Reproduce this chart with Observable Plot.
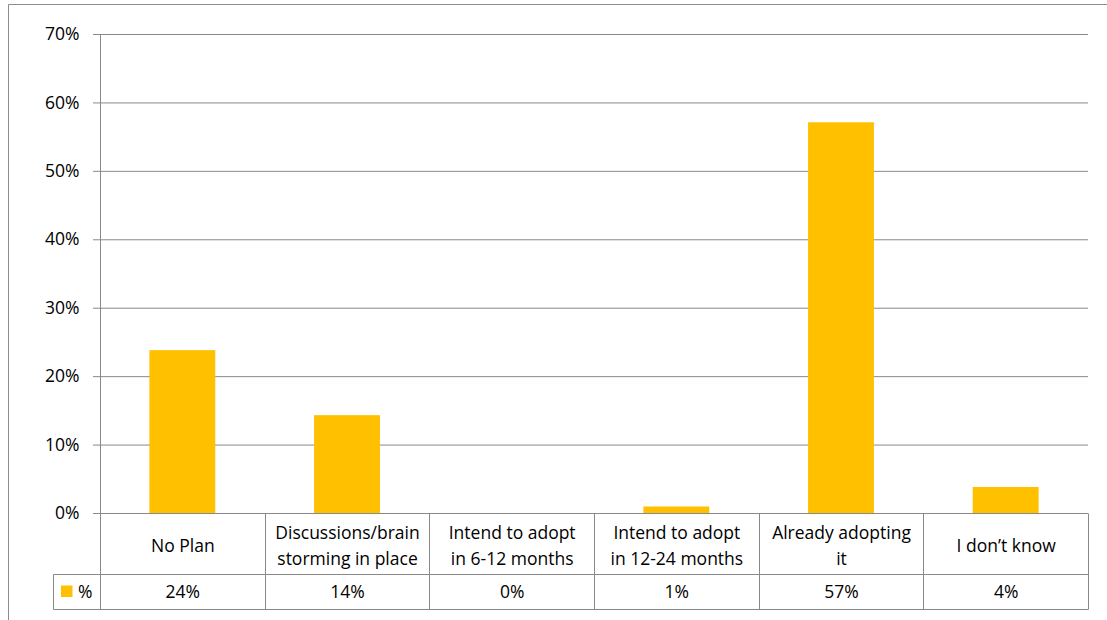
<!DOCTYPE html>
<html>
<head>
<meta charset="utf-8">
<script src="https://cdn.jsdelivr.net/npm/d3@7"></script>
<script src="https://cdn.jsdelivr.net/npm/@observablehq/plot@0.6"></script>
<style>
  html, body { margin: 0; padding: 0; background: #fff; }
  #chart { width: 1107px; height: 620px; }
  #chart svg { display: block; overflow: visible; }
</style>
</head>
<body>
<div id="chart"></div>
<script>
// Survey answers (one category per column of the data table)
const categories = [
  "No Plan",
  "Discussions/brain\nstorming in place",
  "Intend to adopt\nin 6-12 months",
  "Intend to adopt\nin 12-24 months",
  "Already adopting\nit",
  "I don’t know"
];
// Share of respondents per answer
const shares = [0.238, 0.143, 0, 0.0095, 0.571, 0.038];
// Series name shown in the data-table legend
const seriesName = "%";
// Y axis ticks
const yTicks = [0, 0.1, 0.2, 0.3, 0.4, 0.5, 0.6, 0.7];

const data = categories.map((c, i) => ({category: c, value: shares[i]}));

const gold = "#FFC000";
const lineGray = "#898989";
const font = "Open Sans";
const fontSize = 17.5;
const pct = d3.format(".0%");

const W = 1107, H = 620;
const marginLeft = 100, marginRight = 19, marginTop = 34, marginBottom = 107;
const catRowH = 61;   // height of the category row of the table
const valRowH = 35;   // height of the value row of the table

const chart = Plot.plot({
  width: W,
  height: H,
  marginLeft, marginRight, marginTop, marginBottom,
  style: {fontFamily: font, fontSize: fontSize + "px", color: "#000", background: "#fff", overflow: "visible"},
  x: {domain: categories, paddingInner: 0.6, paddingOuter: 0.3, round: false, axis: null},
  y: {domain: [0, 0.7], axis: null},
  marks: [
    Plot.gridY(yTicks, {stroke: lineGray, strokeOpacity: 1, strokeWidth: 1}),
    Plot.axisY(yTicks, {
      tickFormat: pct, tickSize: 7, tickPadding: 14, stroke: lineGray,
      fontSize, label: null, fill: "#000"
    }),
    Plot.barY(data, {x: "category", y: "value", fill: gold}),
    // category names in the first table row
    Plot.text(data, {
      x: "category", y: () => 0, text: "category",
      dy: catRowH / 2, lineHeight: 1.49, fontSize, fill: "#000"
    }),
    // value row of the table
    Plot.text(data, {
      x: "category", y: () => 0, text: d => pct(d.value),
      dy: catRowH + valRowH / 2, fontSize, fill: "#000"
    })
  ]
});

document.getElementById("chart").appendChild(chart);

// Data-table grid and chart border, positioned from the x scale
const xs = chart.scale("x");
const ys = chart.scale("y");
const gap = (xs.step - xs.bandwidth) / 2;
const edges = categories.map(c => xs.apply(c) - gap);
edges.push(xs.apply(categories[categories.length - 1]) + xs.bandwidth + gap);

const y0 = ys.apply(0);
const yRow = y0 + catRowH;
const yEnd = yRow + valRowH;
const legendLeft = 53;
const xLeft = edges[0], xRight = edges[edges.length - 1];
const cr = v => Math.round(v) + 0.5;

const svg = d3.select(chart);
const g = svg.append("g").attr("stroke", lineGray).attr("fill", "none").attr("stroke-width", 1);

// chart border (top and left edges)
g.append("path").attr("stroke", "#8c8c8c")
  .attr("d", `M${cr(8)},${H}V${cr(4)}H${W}`);

// vertical axis line running through the table
g.append("line").attr("x1", cr(xLeft)).attr("x2", cr(xLeft))
  .attr("y1", cr(ys.apply(0.7))).attr("y2", cr(yEnd));

// column separators
edges.slice(1).forEach(x => {
  g.append("line").attr("x1", cr(x)).attr("x2", cr(x)).attr("y1", cr(y0)).attr("y2", cr(yEnd));
});

// row lines
g.append("line").attr("x1", cr(legendLeft)).attr("x2", cr(xRight)).attr("y1", cr(yRow)).attr("y2", cr(yRow));
g.append("line").attr("x1", cr(legendLeft)).attr("x2", cr(xRight)).attr("y1", cr(yEnd)).attr("y2", cr(yEnd));
g.append("line").attr("x1", cr(legendLeft)).attr("x2", cr(legendLeft)).attr("y1", cr(yRow)).attr("y2", cr(yEnd));

// legend key in the value row
const midRow = (yRow + yEnd) / 2;
svg.append("rect")
  .attr("x", legendLeft + 8).attr("y", midRow - 6)
  .attr("width", 11.5).attr("height", 11.5)
  .attr("fill", gold);
svg.append("text")
  .attr("x", legendLeft + 25).attr("y", midRow)
  .attr("dy", "0.35em")
  .attr("text-anchor", "start")
  .attr("font-family", font).attr("font-size", fontSize)
  .attr("fill", "#000")
  .text(seriesName);
</script>
</body>
</html>
